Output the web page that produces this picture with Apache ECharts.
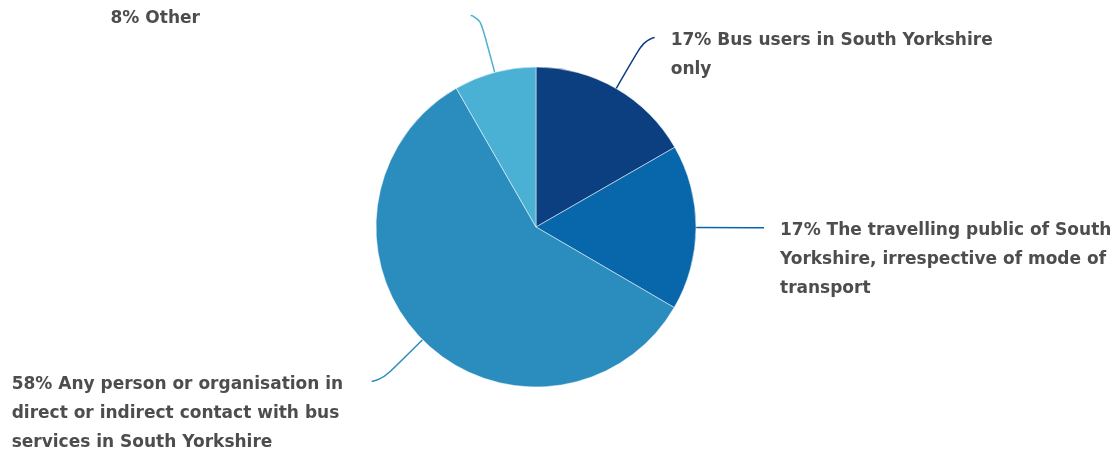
<!DOCTYPE html>
<html><head><meta charset="utf-8">
<script src="https://cdn.jsdelivr.net/npm/echarts@6/dist/echarts.min.js"></script>
<style>html,body{margin:0;padding:0;background:#fff}#c{width:1118px;height:454px}</style>
</head><body><div id="c"></div>
<script>
const categories = [
  ["Bus users in South Yorkshire", "only"],
  ["The travelling public of South", "Yorkshire, irrespective of mode of", "transport"],
  ["Any person or organisation in", "direct or indirect contact with bus", "services in South Yorkshire"],
  ["Other"]
];
const values = [16.7, 16.7, 58.3, 8.3];
const colors = ["#0b3f80", "#0867ab", "#2b8cbe", "#4bb1d4"];
const LH = 29;
const FONT = {color: '#4d4d4d', fontFamily: 'DejaVu Sans', fontWeight: 'bold', fontSize: 17, lineHeight: LH};

const chart = echarts.init(document.getElementById('c'), null, {renderer: 'canvas'});
chart.setOption({
  animation: false,
  series: [{
    type: 'pie',
    center: [536, 227],
    radius: 160,
    startAngle: 90,
    clockwise: true,
    avoidLabelOverlap: false,
    itemStyle: {borderColor: '#ffffff', borderWidth: 0.5},
    label: Object.assign({
      show: true,
      distanceToLabelLine: 16,
      rich: {
        t: Object.assign({align: 'left'}, FONT),
        l: Object.assign({align: 'left', width: 344}, FONT)
      },
      formatter: function (p) {
        const lines = categories[p.dataIndex].slice();
        lines[0] = Math.round(p.value) + '% ' + lines[0];
        const s = p.dataIndex >= 2 ? 'l' : 't';
        return lines.map(l => '{' + s + '|' + l + '}').join('\n');
      }
    }, FONT),
    labelLine: {show: true, length: 59, length2: 9, smooth: 0.8, lineStyle: {width: 1.5}},
    emphasis: {disabled: true},
    data: values.map((v, i) => ({
      value: v,
      name: categories[i].join(' '),
      itemStyle: {color: colors[i]},
      label: {padding: [(categories[i].length - 1) * LH + 6, 0, 0, 0]}
    }))
  }]
});
</script></body></html>
